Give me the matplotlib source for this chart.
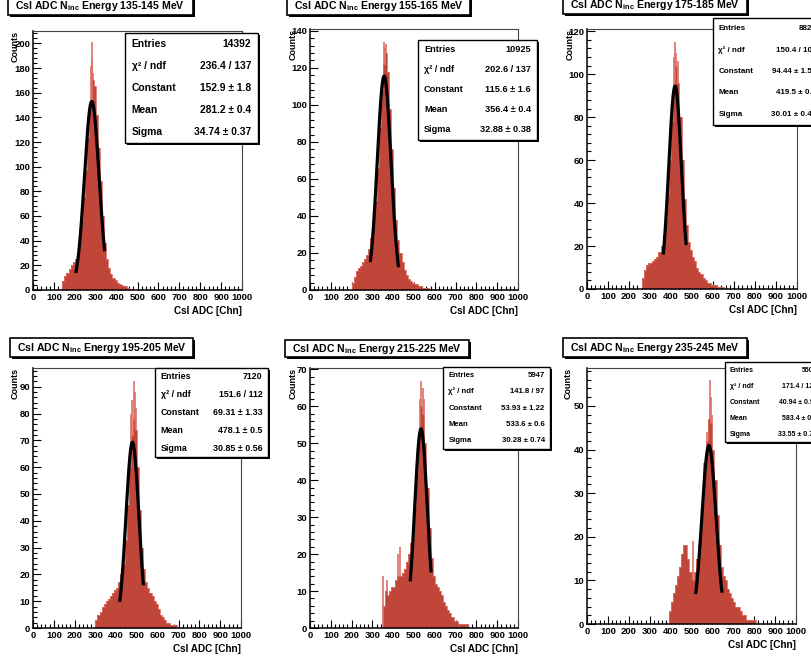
import numpy as np
import matplotlib
matplotlib.use('Agg')
import matplotlib.pyplot as plt
from matplotlib.patches import Rectangle
from matplotlib.ticker import MultipleLocator, AutoMinorLocator

# CsI ADC spectra for six incident energy slices, each with a gaussian fit

W, H = 811, 659

energy_bins = ['135-145', '155-165', '175-185', '195-205', '215-225', '235-245']

# counts per channel, read in 10 channel steps starting at *_start
p1_start = 130
p1_counts = [0, 7, 11, 14, 17, 20, 23, 25, 30, 42, 57, 75, 97, 123, 150, 170, 165, 142,
             115, 88, 60, 38, 25, 18, 13, 10, 8, 6, 5, 4, 3, 3, 2, 1, 1]
p1_spike_x = [276, 281, 284, 289]
p1_spike_y = [182, 201, 186, 176]

p2_start = 190
p2_counts = [0, 4, 7, 10, 12, 13, 15, 17, 19, 22, 28, 36, 48, 66, 88, 108, 122, 128, 118,
             98, 76, 55, 38, 27, 20, 15, 11, 8, 6, 5, 4, 3, 3, 2, 2, 1, 1, 1]
p2_spike_x = [358, 362, 366]
p2_spike_y = [134, 131, 133]

p3_start = 250
p3_counts = [0, 5, 9, 11, 12, 12, 13, 14, 15, 17, 20, 25, 32, 44, 60, 78, 95, 104, 96, 80,
             60, 42, 30, 22, 18, 15, 13, 10, 8, 7, 5, 4, 3, 3, 2, 2, 2, 1, 1, 1]
p3_spike_x = [415, 421, 425, 432]
p3_spike_y = [108, 115, 110, 106]

p4_start = 290
p4_counts = [0, 3, 5, 6, 8, 9, 10, 11, 12, 13, 14, 15, 17, 20, 24, 33, 46, 60, 72, 78, 74,
             60, 44, 30, 22, 17, 15, 13, 12, 10, 9, 7, 5, 4, 3, 2, 2, 1, 1, 1]
p4_spike_x = [470, 478, 486, 492, 497]
p4_spike_y = [80, 85, 92, 88, 82]

p5_start = 340
p5_counts = [0, 6, 10, 9, 10, 11, 11, 13, 14, 14, 15, 16, 18, 20, 23, 27, 33, 42, 52, 60,
             58, 50, 38, 27, 19, 14, 12, 11, 10, 9, 7, 6, 5, 4, 3, 2, 2, 1, 1, 1, 1, 1]
p5_spike_x = [352, 371, 421, 432, 528, 536, 541, 547]
p5_spike_y = [14, 13, 20, 22, 62, 67, 65, 62]

p6_start = 380
p6_counts = [0, 3, 5, 7, 9, 11, 13, 16, 18, 18, 15, 12, 10, 12, 15, 18, 22, 28, 35, 42, 47,
             46, 40, 33, 25, 18, 13, 11, 10, 8, 7, 6, 5, 4, 4, 3, 2, 2, 1, 1, 1, 1, 1]
p6_spike_x = [506, 560, 576, 588, 594, 600]
p6_spike_y = [19, 37, 44, 56, 52, 48]

starts = [p1_start, p2_start, p3_start, p4_start, p5_start, p6_start]
counts = [p1_counts, p2_counts, p3_counts, p4_counts, p5_counts, p6_counts]
spike_x = [p1_spike_x, p2_spike_x, p3_spike_x, p4_spike_x, p5_spike_x, p6_spike_x]
spike_y = [p1_spike_y, p2_spike_y, p3_spike_y, p4_spike_y, p5_spike_y, p6_spike_y]

# fit results
entries = ['14392', '10925', '8820', '7120', '5947', '5500']
chi2_ndf = ['236.4 / 137', '202.6 / 137', '150.4 / 108', '151.6 / 112', '141.8 / 97', '171.4 / 122']
fit_const = [152.9, 115.6, 94.44, 69.31, 53.93, 40.94]
fit_const_err = ['1.8', '1.6', '1.58', '1.33', '1.22', '0.96']
fit_mean = [281.2, 356.4, 419.5, 478.1, 533.6, 583.4]
fit_mean_err = ['0.4', '0.4', '0.4', '0.5', '0.6', '0.7']
fit_sigma = [34.74, 32.88, 30.01, 30.85, 30.28, 33.55]
fit_sigma_err = ['0.37', '0.38', '0.48', '0.56', '0.74', '0.79']
fit_lo = [205, 290, 363, 417, 482, 520]
fit_hi = [343, 426, 472, 531, 582, 646]

y_max = [210, 141, 121, 97, 70.4, 58.7]
y_step = [20, 20, 20, 10, 10, 10]

# layout in pixels (x0, y0, x1, y1), y measured from the top
frames = [(33, 31, 242, 290), (310, 29, 518, 290), (587, 29, 797, 289),
          (33, 368, 241, 628), (310, 368, 518, 628), (587, 368, 796, 624)]
title_boxes = [(8, -4, 193, 15), (287, -4, 470, 15), (563, -4, 747, 14),
               (10, 338, 193, 357), (285, 340, 469, 357), (563, 338, 747, 357)]
stat_boxes = [(125, 33, 258, 143), (418, 40, 537, 140), (713, 18, 822, 125),
              (155, 368, 268, 457), (443, 367, 550, 449), (725, 362, 822, 442)]
stat_fs = [7.4, 6.6, 5.8, 6.4, 5.6, 5.0]
counts_x = [15, 293, 570, 15, 293, 568]

plt.rcParams['font.family'] = ['Liberation Sans', 'DejaVu Sans']
plt.rcParams['font.weight'] = 'bold'
plt.rcParams['mathtext.fontset'] = 'custom'
plt.rcParams['mathtext.rm'] = 'Liberation Sans:bold'
plt.rcParams['mathtext.bf'] = 'Liberation Sans:bold'

fig = plt.figure(figsize=(W / 100, H / 100), dpi=100)


def fx(x):
    return x / W


def fy(y):
    return 1 - y / H


def px_box(x0, y0, x1, y1, shadow=2, lw=1.0):
    # white box with black border and a drop shadow, in figure pixels
    fig.add_artist(Rectangle((fx(x0 + shadow), fy(y1 + shadow)), fx(x1 - x0), (y1 - y0) / H,
                             transform=fig.transFigure, facecolor='black', edgecolor='none', zorder=4))
    fig.add_artist(Rectangle((fx(x0), fy(y1)), fx(x1 - x0), (y1 - y0) / H,
                             transform=fig.transFigure, facecolor='white', edgecolor='black',
                             lw=lw, zorder=5))


hist_color = '#c0463a'
spike_color = '#dc6f63'

for i in range(6):
    x0, y0, x1, y1 = frames[i]
    ax = fig.add_axes([fx(x0), fy(y1), fx(x1 - x0), (y1 - y0) / H])

    edges = starts[i] + 10 * np.arange(len(counts[i]) + 1)
    # single channel spikes sit behind the binned body
    ax.vlines(spike_x[i], 0, spike_y[i], color=spike_color, lw=1.2, zorder=1)
    ax.stairs(counts[i], edges, fill=True, color=hist_color, lw=0, zorder=2)
    ax.stairs(counts[i], edges, fill=False, color=spike_color, lw=0.6, zorder=2)

    # gaussian fit over the fitted range
    xf = np.linspace(fit_lo[i], fit_hi[i], 200)
    yf = fit_const[i] * np.exp(-0.5 * ((xf - fit_mean[i]) / fit_sigma[i]) ** 2)
    ax.plot(xf, yf, color='black', lw=2.3, solid_capstyle='butt', zorder=3)

    ax.set_xlim(0, 1000)
    ax.set_ylim(0, y_max[i])
    ax.xaxis.set_major_locator(MultipleLocator(100))
    ax.xaxis.set_minor_locator(AutoMinorLocator(5))
    ax.yaxis.set_major_locator(MultipleLocator(y_step[i]))
    ax.yaxis.set_minor_locator(AutoMinorLocator(5))
    ax.tick_params(which='both', direction='in', top=False, right=False, width=0.8, color='black')
    ax.tick_params(which='major', length=6, labelsize=6.8, pad=2)
    ax.tick_params(which='minor', length=3)
    for lab in ax.get_xticklabels() + ax.get_yticklabels():
        lab.set_fontweight('bold')
    for side in ['left', 'bottom']:
        ax.spines[side].set_linewidth(1.1)
    for side in ['top', 'right']:
        ax.spines[side].set_linewidth(0.8)
        ax.spines[side].set_color('#444444')

    fig.text(fx(counts_x[i]), fy(y0), 'Counts', rotation=90, ha='center', va='top',
             fontsize=6.5, fontweight='bold')
    fig.text(fx(x1), fy(y1 + 21), 'CsI ADC [Chn]', ha='right', va='center',
             fontsize=7.2, fontweight='bold')

    # title box
    tx0, ty0, tx1, ty1 = title_boxes[i]
    px_box(tx0, ty0, tx1, ty1, shadow=2, lw=1.2)
    fig.text(fx(tx0 + 7), fy((ty0 + ty1) / 2 + 0.5),
             r'CsI ADC N$_{\mathrm{inc}}$ Energy ' + energy_bins[i] + ' MeV',
             ha='left', va='center', fontsize=7.6, fontweight='bold', zorder=6)

    # statistics box
    sx0, sy0, sx1, sy1 = stat_boxes[i]
    px_box(sx0, sy0, sx1, sy1, shadow=2, lw=1.0)
    rows = [('Entries', entries[i]),
            ('\u03c7\u00b2 / ndf', chi2_ndf[i]),
            ('Constant', f'{fit_const[i]:.4g} \u00b1 {fit_const_err[i]}'),
            ('Mean', f'{fit_mean[i]:.4g} \u00b1 {fit_mean_err[i]}'),
            ('Sigma', f'{fit_sigma[i]:.4g} \u00b1 {fit_sigma_err[i]}')]
    rh = (sy1 - sy0) / 5
    pad = 0.05 * (sx1 - sx0)
    for k, (name, val) in enumerate(rows):
        yc = fy(sy0 + (k + 0.5) * rh)
        fig.text(fx(sx0 + pad), yc, name, ha='left', va='center',
                 fontsize=stat_fs[i], fontweight='bold', zorder=6)
        fig.text(fx(sx1 - pad), yc, val, ha='right', va='center',
                 fontsize=stat_fs[i], fontweight='bold', zorder=6)

fig.savefig('out.png', dpi=100)
